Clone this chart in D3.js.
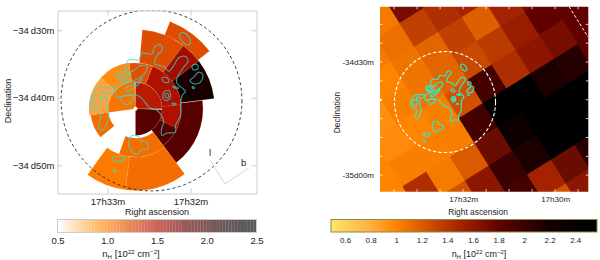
<!DOCTYPE html>
<html>
<head>
<meta charset="utf-8">
<script src="https://cdn.jsdelivr.net/npm/d3@7"></script>
<style>
  html, body { margin: 0; padding: 0; background: #fff; }
  svg { display: block; }
  text { font-family: "Liberation Sans", sans-serif; fill: #222; }
</style>
</head>
<body>
<svg id="chart" width="600" height="260"></svg>
<script>
// All sky positions are arcmin offsets from the dashed circle centre (+x towards lower RA)

// Left panel: sectors around the cluster centre
let sectorCentre = [-2.37, -1.23]
let sectorInner = [11.75, 6.8, 6.8, 6.8, 3.95, 3.95, 3.95, 6.8, 0.3, 3.95, 3.95, 4.35, 7.16, 7.16, 4.05, 4.05, 0.3, 4.05, 0.3]
let sectorOuter = [13.9, 11.75, 11.75, 11.75, 6.8, 6.8, 6.8, 10, 3.95, 6.8, 6.8, 7.16, 12.1, 12.1, 6.7, 6.9, 4.05, 6.9, 3.95]
let sectorStart = [21.6, 5, 37, 53, 22, -8, 85, 83, 92, 85, 115, 143, 143, 187, 231, 262, 262, 312, 0]
let sectorEnd = [52, 37, 53, 82.5, 85, 22, 115, 143, 180, 115, 143, 200, 187, 216, 262, 312, 358, 352, 90]
let sectorN = [1.22, 1.22, 1.55, 2.2, 1.5, 1.2, 1.5, 1.85, 1.85, 1.5, 1.85, 1.08, 1.08, 1.02, 1.08, 0.85, 1.05, 0.95, 1.45]

// Right panel: pixel map on a rotated grid, rows j = -1..8, columns i = -4..5
let gridOrigin = [-11.94, 20.88]
let gridCell = 7.43
let gridAngle = 32
let gridColumns = [-4, -3, -2, -1, 0, 1, 2, 3, 4, 5]
let gridRows = [-1, 0, 1, 2, 3, 4, 5, 6, 7, 8]
let gridN = [
  [null, null, null, 1.05, 1.7, 1.6, null, null, null, null],
  [null, null, 1.05, 1.1, 1.35, 1.45, 1.5, null, null, null],
  [null, null, 1.0, 1.08, 1.15, 1.35, 1.18, 1.5, 1.7, null],
  [null, 0.95, 1.03, 1.08, 1.15, 1.3, 1.38, 1.55, 1.8, 1.8],
  [1.0, 0.97, 1.0, 1.03, 1.25, 1.95, 1.45, 1.6, 1.7, 1.8],
  [1.0, 1.03, 1.03, 1.03, 1.95, 2.45, 2.5, 2.15, 2.1, 1.8],
  [1.0, 1.45, 1.05, 1.2, 1.75, 2.3, 2.5, 2.5, 2.5, 2.3],
  [null, 1.05, 1.25, 1.6, 2.0, 2.15, 2.45, 2.5, 2.4, null],
  [null, null, 1.3, 1.7, 1.95, 1.5, 1.75, 2.1, null, null],
  [null, null, null, 1.8, 1.9, 1.25, 1.6, 1.9, null, null]
]

// Intensity contour, same sky positions on both panels
let contourMain = [[-3.36,6.03],[-1.88,6.03],[-1.48,7.01],[.10,6.91],[.44,7.90],[1.33,8.30],[1.58,7.51],[.84,6.67],[.44,5.43],[1.83,5.04],[2.57,4.35],[3.31,5.19],[4.05,6.32],[5.04,6.52],[5.43,5.83],[4.79,4.94],[4.05,3.85],[3.70,2.72],[4.69,1.73],[5.04,1.38],[4.54,.74],[4.30,-.74],[4.30,-2.22],[3.56,-3.70],[3.56,-4.69],[2.17,-4.84],[1.58,-5.19],[1.48,-4.20],[1.83,-3.21],[1.48,-2.22],[.84,-1.48],[-.25,-1.09],[-1.38,.25],[-2.03,.74],[-2.87,.89],[-4.00,.74],[-5.09,.40],[-5.34,.99],[-5.09,1.88],[-4.10,2.47],[-2.62,2.96],[-1.14,3.85],[-.64,5.04],[-1.63,5.19],[-2.62,4.45],[-3.36,4.20],[-3.85,4.69]]
let contourWest = [[-5.34,1.88],[-6.57,1.88],[-7.95,1.88],[-8.79,.74],[-9.04,-.99],[-8.05,-1.58],[-7.56,-2.22],[-7.81,-4.05],[-7.31,-4.45],[-6.67,-3.56],[-6.32,-1.98],[-6.67,-.89],[-6.67,.40],[-7.56,.74],[-7.31,1.38],[-6.08,.99]]
let contourWestIn = [[-8.30,.74],[-8.64,-.49],[-7.81,-.99],[-7.31,0]]
let contourInnerA = [[-4.59,.49],[-3.85,-.59],[-3.01,-.25],[-2.72,.59]]
let contourInnerB = [[-3.85,1.88],[-2.37,2.47],[-1.38,3.36],[-1.63,2.72],[-2.62,1.88],[-3.60,1.38]]
let contourKnot = [[-5.09,3.95],[-4.20,4.35],[-3.11,3.70],[-3.36,2.96],[-4.59,2.87],[-5.09,3.36]]
let contourKnotIn = [[-4.69,3.70],[-3.70,3.70],[-3.70,3.21],[-4.69,3.26]]
let contourSouth = [[-3.36,-5.93],[-2.87,-5.19],[-1.88,-5.34],[-1.63,-5.93],[-.64,-6.18],[-.54,-7.16],[-1.63,-7.41],[-2.12,-8.00],[-3.11,-7.31]]
let contourNorth = [[4.20,9.88],[4.89,10.03],[5.78,8.89],[5.53,8.25],[4.79,8.50],[4.20,9.39]]
let contourEastA = [[6.03,5.19],[6.77,5.34],[6.87,4.69],[6.18,4.54]]
let contourEastB = [[7.01,4.20],[7.61,3.85],[7.26,2.72],[6.27,2.47],[5.68,2.96],[6.27,3.46]]
let contourCore = [[1.83,1.23],[2.57,1.48],[2.82,.49],[2.32,0],[1.73,.25]]
let contourCoreIn = [[2.07,.99],[2.47,.99],[2.47,.40],[2.07,.49]]
let contourSmallA = [[1.58,3.36],[2.32,3.36],[2.57,2.72],[1.83,2.72]]
let contourSmallB = [[3.06,2.07],[4.05,1.88],[3.80,1.73]]
let contourSmallC = [[6.03,2.07],[6.42,1.88],[6.18,1.73]]
let contourSmallD = [[-5.83,-8.50],[-3.85,-8.40],[-4.10,-8.89],[-5.34,-8.99]]
let contourSmallE = [[-5.68,-10.27],[-5.29,-10.37],[-5.48,-10.62]]
let contourSmallF = [[3.06,-.40],[3.66,-.49],[3.31,-.69]]
let contours = [contourMain, contourWest, contourWestIn, contourInnerA, contourInnerB, contourKnot, contourKnotIn, contourSouth, contourNorth,
  contourEastA, contourEastB, contourCore, contourCoreIn, contourSmallA, contourSmallB, contourSmallC, contourSmallD, contourSmallE, contourSmallF]

let circleRadius = 13.4
let cornerArc = [[32.9, 25.3], [37.9, 17.3]]

// Tick positions (offsets) and their labels
let leftDecTicks = [10.4, 0.4, -9.6]
let leftDecLabels = ['\u221234\u2009d30m', '\u221234\u2009d40m', '\u221234\u2009d50m']
let leftRaTicks = [-6.52, 5.78]
let leftRaLabels = ['17h33m', '17h32m']
let rightDecTicks = [10.6, -19.4]
let rightDecLabels = ['-34d30m', '-35d00m']
let rightRaTicks = [4.8, 29.2]
let rightRaLabels = ['17h32m', '17h30m']
let rightDecMinor = [20.6, 15.6, 10.6, 5.6, 0.6, -4.4, -9.4, -14.4, -19.4]
let rightRaMinor = [-13.5, -7.4, -1.3, 4.8, 10.9, 17, 23.1, 29.2, 35.3]

let leftBarTicks = [0.5, 1, 1.5, 2, 2.5]
let leftBarLabels = ['0.5', '1.0', '1.5', '2.0', '2.5']
let rightBarTicks = [0.6, 0.8, 1, 1.2, 1.4, 1.6, 1.8, 2, 2.2, 2.4]
let rightBarLabels = ['0.6', '0.8', '1', '1.2', '1.4', '1.6', '1.8', '2', '2.2', '2.4']

// Colour ramps
let rampN = [0.5, 0.8, 1.0, 1.2, 1.5, 1.8, 2.2, 2.5]
let leftRamp = ['#ffffff', '#ffb050', '#ff8000', '#e05000', '#b01000', '#600000', '#180000', '#000000']
let rightRamp = ['#ffe466', '#ffb040', '#ff8500', '#da5a00', '#a42400', '#600400', '#140000', '#000000']
let leftColor = d3.scaleLinear().domain(rampN).range(leftRamp)
let rightColor = d3.scaleLinear().domain(rampN).range(rightRamp).clamp(true)

let svg = d3.select('#chart')
let defs = svg.append('defs')

// Left panel scales
let lx = d3.scaleLinear().domain([-13.93, 15.56]).range([57.5, 256.5])
let ly = d3.scaleLinear().domain([13.33, -13.78]).range([10.5, 193.5])
// Right panel scales
let rx = d3.scaleLinear().domain([-17.24, 38.0]).range([380, 588.3])
let ry = d3.scaleLinear().domain([25.28, -23.79]).range([6.7, 191.7])

function clip(id, x, y) {
    defs.append('clipPath').attr('id', id).append('rect')
        .attr('x', x.range()[0]).attr('y', y.range()[0])
        .attr('width', x.range()[1] - x.range()[0])
        .attr('height', y.range()[1] - y.range()[0])
}
clip('clip-left', lx, ly)
clip('clip-right', rx, ry)

defs.append('filter').attr('id', 'soft')
    .attr('x', '-5%').attr('y', '-5%').attr('width', '110%').attr('height', '110%')
    .append('feGaussianBlur').attr('stdDeviation', 0.7)

function drawContours(g, x, y, color, width, opacity) {
    let path = d3.line().x(d => x(d[0])).y(d => y(d[1])).curve(d3.curveCatmullRomClosed.alpha(0.5))
    g.selectAll('path.contour').data(contours).enter().append('path')
        .attr('class', 'contour')
        .attr('d', path)
        .attr('fill', 'none')
        .attr('stroke', color)
        .attr('stroke-width', width)
        .attr('stroke-opacity', opacity)
}

function drawFrameAxes(x, y, color, xTicks, xLabels, yTicks, yLabels, fontSize, yPad) {
    let xFmt = d => xLabels[xTicks.indexOf(d)]
    let yFmt = d => yLabels[yTicks.indexOf(d)]
    let sides = [
        [d3.axisBottom(x).tickValues(xTicks).tickFormat(xFmt).tickPadding(5), 0, y.range()[1]],
        [d3.axisTop(x).tickValues(xTicks).tickFormat(''), 0, y.range()[0]],
        [d3.axisLeft(y).tickValues(yTicks).tickFormat(yFmt).tickPadding(yPad), x.range()[0], 0],
        [d3.axisRight(y).tickValues(yTicks).tickFormat(''), x.range()[1], 0]
    ]
    sides.forEach(s => {
        let g = svg.append('g')
            .attr('transform', `translate(${s[1]},${s[2]})`)
            .call(s[0].tickSizeInner(-5).tickSizeOuter(0))
        g.select('.domain').attr('stroke', color)
        g.selectAll('.tick line').attr('stroke', color)
        g.selectAll('.tick text').attr('font-size', fontSize).attr('fill', '#222')
    })
}

function label(x, y, size, str, rotate) {
    return svg.append('text')
        .attr('transform', `translate(${x},${y})` + (rotate ? ' rotate(-90)' : ''))
        .attr('text-anchor', 'middle')
        .attr('font-size', size)
        .text(str)
}

function nLabel(x, y, size) {
    let t = label(x, y, size, '')
    let parts = [['n', 0], ['H', -1], [' [10', 0], ['22', 1], [' cm', 0], ['\u22122', 1], [']', 0]]
    parts.forEach(p => {
        let s = t.append('tspan').text(p[0])
        if (p[1] !== 0) {
            s.attr('font-size', size * 0.65)
             .attr('baseline-shift', p[1] > 0 ? '45%' : '-25%')
        }
    })
}

function colorBar(x, y0, y1, color, opacity, steps, ticks, labels, fontSize, stroke) {
    let g = svg.append('g')
    let dom = x.domain()
    let w = (x.range()[1] - x.range()[0]) / steps
    g.selectAll('rect').data(d3.range(steps)).enter().append('rect')
        .attr('x', i => x.range()[0] + i * w)
        .attr('y', y0)
        // solid bars overlap a little so no seams show, the faded one keeps its bands
        .attr('width', i => (opacity === 1 && i < steps - 1) ? w + 1 : w)
        .attr('height', y1 - y0)
        .attr('fill', i => color(dom[0] + (i + 0.5) / steps * (dom[1] - dom[0])))
        .attr('fill-opacity', opacity)
    svg.append('rect')
        .attr('x', x.range()[0]).attr('y', y0)
        .attr('width', x.range()[1] - x.range()[0]).attr('height', y1 - y0)
        .attr('fill', 'none').attr('stroke', stroke)
    let ax = svg.append('g')
        .attr('transform', `translate(0,${y1})`)
        .call(d3.axisBottom(x).tickValues(ticks).tickFormat(d => labels[ticks.indexOf(d)]).tickSize(0).tickPadding(5))
    ax.select('.domain').remove()
    ax.selectAll('text').attr('font-size', fontSize).attr('fill', '#222')
}

// ---- Left panel ----
let left = svg.append('g').attr('clip-path', 'url(#clip-left)')
let lscale = lx(1) - lx(0)
let arc = d3.arc()
left.selectAll('path.sector').data(sectorN).enter().append('path')
    .attr('class', 'sector')
    .attr('transform', `translate(${lx(sectorCentre[0])},${ly(sectorCentre[1])})`)
    .attr('d', (d, i) => arc({
        innerRadius: sectorInner[i] * lscale,
        outerRadius: sectorOuter[i] * lscale,
        startAngle: sectorStart[i] * Math.PI / 180,
        endAngle: sectorEnd[i] * Math.PI / 180
    }))
    .attr('fill', d => leftColor(d))
    .attr('stroke', '#ffb070')
    .attr('stroke-width', 0.3)
    .attr('stroke-opacity', 0.35)
drawContours(left, lx, ly, '#2fe0d8', 1.1, 0.7)

left.append('circle')
    .attr('cx', lx(0)).attr('cy', ly(0)).attr('r', circleRadius * lscale)
    .attr('fill', 'none').attr('stroke', '#222').attr('stroke-width', 0.9)
    .attr('stroke-dasharray', '3,2.6')

drawFrameAxes(lx, ly, '#cccccc', leftRaTicks, leftRaLabels, leftDecTicks, leftDecLabels, 9.5, 3)

// compass
let compassOrigin = [10.86, -12.34]
let compassB = [14.41, -10.03]
let compassL = [8.74, -8.89]
;[compassB, compassL].forEach(p => {
    svg.append('line')
        .attr('x1', lx(compassOrigin[0])).attr('y1', ly(compassOrigin[1]))
        .attr('x2', lx(p[0])).attr('y2', ly(p[1]))
        .attr('stroke', '#d4d4d4').attr('stroke-width', 1)
})
label(lx(compassB[0]) - 5, ly(compassB[1]) - 2, 9.5, 'b')
label(lx(compassL[0]) - 0.5, ly(compassL[1]) - 4, 9.5, 'l')

label(10.5, 101, 9, 'Declination', true)
label(157, 214.5, 9, 'Right ascension')

let lbx = d3.scaleLinear().domain([0.5, 2.5]).range([57.5, 256.5])
colorBar(lbx, 219.5, 232.5, leftColor, 0.65, 64, leftBarTicks, leftBarLabels, 9.5, '#cccccc')
nLabel(131, 257, 9.5)

// ---- Right panel ----
let right = svg.append('g').attr('clip-path', 'url(#clip-right)')
let ca = Math.cos(gridAngle * Math.PI / 180)
let sa = Math.sin(gridAngle * Math.PI / 180)
function gridPoint(i, j) {
    return [
        rx(gridOrigin[0] + gridCell * (i * ca + j * sa)),
        ry(gridOrigin[1] + gridCell * (i * sa - j * ca))
    ]
}
let cells = []
gridRows.forEach((j, r) => gridColumns.forEach((i, c) => {
    if (gridN[r][c] !== null) cells.push({i: i, j: j, n: gridN[r][c]})
}))
right.append('g').attr('filter', 'url(#soft)')
  .selectAll('polygon').data(cells).enter().append('polygon')
    .attr('points', d => [
        gridPoint(d.i, d.j), gridPoint(d.i + 1, d.j),
        gridPoint(d.i + 1, d.j + 1), gridPoint(d.i, d.j + 1)
    ].join(' '))
    .attr('fill', d => rightColor(d.n))
    .attr('stroke', d => rightColor(d.n))
    .attr('stroke-width', 1)

drawContours(right, rx, ry, '#35e6c8', 1.2, 1)

right.append('circle')
    .attr('cx', rx(0)).attr('cy', ry(0)).attr('r', rx(circleRadius) - rx(0))
    .attr('fill', 'none').attr('stroke', '#fff').attr('stroke-width', 1.1)
    .attr('stroke-dasharray', '3.5,2')
right.append('path')
    .attr('d', d3.line().x(d => rx(d[0])).y(d => ry(d[1]))(cornerArc))
    .attr('fill', 'none').attr('stroke', '#fff').attr('stroke-width', 1)
    .attr('stroke-dasharray', '3,2')

drawFrameAxes(rx, ry, 'none', rightRaTicks, rightRaLabels, rightDecTicks, rightDecLabels, 8, 6)

// minor white ticks inside the frame
let minorLen = 2.5
svg.append('g').selectAll('line').data(rightRaMinor.flatMap(d => [[d, 0], [d, 1]])).enter().append('line')
    .attr('x1', d => rx(d[0])).attr('x2', d => rx(d[0]))
    .attr('y1', d => d[1] ? ry.range()[1] : ry.range()[0])
    .attr('y2', d => d[1] ? ry.range()[1] - minorLen : ry.range()[0] + minorLen)
    .attr('stroke', '#fff').attr('stroke-width', 0.8)
svg.append('g').selectAll('line').data(rightDecMinor.flatMap(d => [[d, 0], [d, 1]])).enter().append('line')
    .attr('y1', d => ry(d[0])).attr('y2', d => ry(d[0]))
    .attr('x1', d => d[1] ? rx.range()[1] : rx.range()[0])
    .attr('x2', d => d[1] ? rx.range()[1] - minorLen : rx.range()[0] + minorLen)
    .attr('stroke', '#fff').attr('stroke-width', 0.8)

label(340, 112.5, 8.4, 'Declination', true)
label(478, 214.5, 8.4, 'Right ascension')

let rbx = d3.scaleLinear().domain([0.49, 2.57]).range([331, 597])
colorBar(rbx, 219.5, 232, rightColor, 1, 120, rightBarTicks, rightBarLabels, 8, '#8a8a50')
nLabel(479, 257, 9)
</script>
</body>
</html>
